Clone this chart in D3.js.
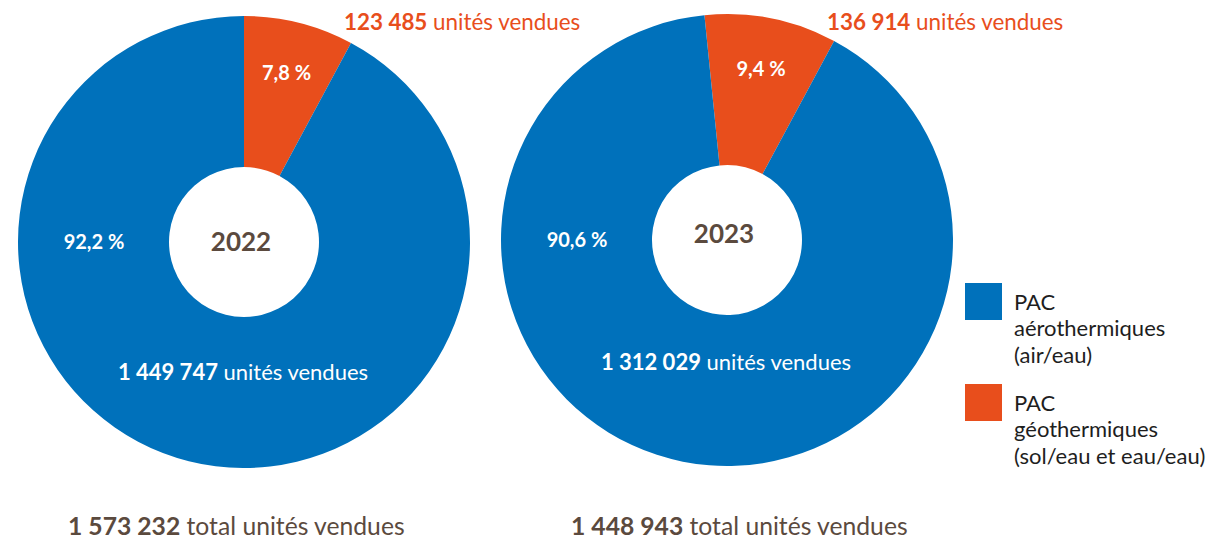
<!DOCTYPE html>
<html>
<head>
<meta charset="utf-8">
<script src="https://cdn.jsdelivr.net/npm/d3@7"></script>
<style>
  body { margin: 0; background: #fff; }
  svg text { font-family: "Lato", "Noto Sans", sans-serif; }
</style>
</head>
<body>
<div id="chart"></div>
<script>
// data
var years = ["2022", "2023"];
var categories = ["PAC aérothermiques (air/eau)", "PAC géothermiques (sol/eau et eau/eau)"];
var aeroUnits = [1449747, 1312029];
var geoUnits = [123485, 136914];
var aeroPct = ["92,2 %", "90,6 %"];
var geoPct = ["7,8 %", "9,4 %"];
var totals = [1573232, 1448943];
var legendLines = [["PAC", "aérothermiques", "(air/eau)"], ["PAC", "géothermiques", "(sol/eau et eau/eau)"]];

var colors = ["#0071bb", "#e84e1c"];
var brown = "#5b4a3e";

var width = 1220, height = 542;

// french number format with spaces
var fmt = function(n) { return d3.format(",")(n).replace(/,/g, " "); };

var svg = d3.select("#chart")
  .append("svg")
  .attr("width", width)
  .attr("height", height);

// donut geometry
var centers = [{x: 244, y: 242}, {x: 727, y: 240}];
var outerR = 226, innerR = 75;
var rotations = [0, -0.1];  // start angle of the orange slice

var arc = d3.arc().innerRadius(innerR).outerRadius(outerR);
var labelArc = d3.arc().innerRadius(174).outerRadius(174);

years.forEach(function(year, i) {
  var pie = d3.pie()
    .sort(null)
    .startAngle(rotations[i])
    .endAngle(rotations[i] + 2 * Math.PI);

  // orange first so it starts at the top, going clockwise
  var slices = pie([geoUnits[i], aeroUnits[i]]);

  var g = svg.append("g")
    .attr("transform", "translate(" + centers[i].x + "," + centers[i].y + ")");

  g.selectAll("path")
    .data(slices)
    .enter().append("path")
      .attr("d", arc)
      .attr("fill", function(d, j) { return colors[1 - j]; });

  // percentage of the small slice
  var c = labelArc.centroid(slices[0]);
  g.append("text")
    .attr("x", c[0])
    .attr("y", c[1])
    .attr("dy", "0.35em")
    .attr("text-anchor", "middle")
    .attr("fill", "#fff")
    .attr("font-weight", "bold")
    .attr("font-size", 20)
    .text(geoPct[i]);

  // percentage of the big slice, left side
  g.append("text")
    .attr("x", -150)
    .attr("y", 0)
    .attr("dy", "0.35em")
    .attr("text-anchor", "middle")
    .attr("fill", "#fff")
    .attr("font-weight", "bold")
    .attr("font-size", 20)
    .text(aeroPct[i]);

  // year in the hole
  g.append("text")
    .attr("x", -3)
    .attr("y", i == 0 ? 0 : -6)
    .attr("dy", "0.35em")
    .attr("text-anchor", "middle")
    .attr("fill", brown)
    .attr("font-weight", "bold")
    .attr("font-size", 26)
    .text(year);

  // units inside the blue slice
  var t = g.append("text")
    .attr("x", -1)
    .attr("y", i == 0 ? 130 : 122)
    .attr("dy", "0.35em")
    .attr("text-anchor", "middle")
    .attr("fill", "#fff")
    .attr("font-size", 22);
  t.append("tspan").attr("font-weight", "bold").text(fmt(aeroUnits[i]));
  t.append("tspan").text(" unités vendues");

  // units of the small slice, above the donut
  var o = svg.append("text")
    .attr("x", centers[i].x + 100)
    .attr("y", 22)
    .attr("dy", "0.35em")
    .attr("fill", colors[1])
    .attr("font-size", 22.4);
  o.append("tspan").attr("font-weight", "bold").text(fmt(geoUnits[i]));
  o.append("tspan").text(" unités vendues");

  // total below
  var b = svg.append("text")
    .attr("x", centers[i].x - 176 + (i == 0 ? 0 : 20))
    .attr("y", 526)
    .attr("dy", "0.35em")
    .attr("fill", brown)
    .attr("font-size", 24.7);
  b.append("tspan").attr("font-weight", "bold").text(fmt(totals[i]));
  b.append("tspan").text(" total unités vendues");
});

// legend
var legend = svg.append("g")
  .attr("transform", "translate(965,283)");

var item = legend.selectAll("g")
  .data(categories)
  .enter().append("g")
    .attr("transform", function(d, i) { return "translate(0," + i * 101 + ")"; });

item.append("rect")
  .attr("width", 37)
  .attr("height", 37)
  .attr("fill", function(d, i) { return colors[i]; });

item.append("text")
  .attr("x", 49)
  .attr("y", 19)
  .attr("fill", "#1e1e1e")
  .attr("font-size", 22)
  .selectAll("tspan")
  .data(function(d, i) { return legendLines[i]; })
  .enter().append("tspan")
    .attr("x", 49)
    .attr("dy", function(d, j) { return j == 0 ? "0.35em" : 26.5; })
    .text(function(d) { return d; });
</script>
</body>
</html>
